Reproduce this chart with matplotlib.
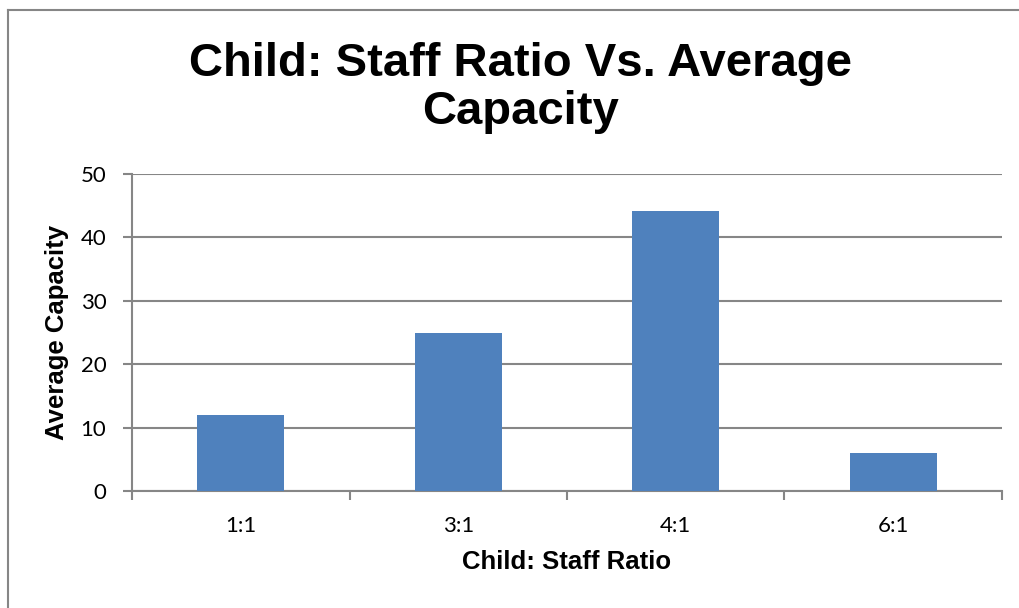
import matplotlib.pyplot as plt
from matplotlib.lines import Line2D
import numpy as np

ratios = ["1:1", "3:1", "4:1", "6:1"]
avg_capacity = [12, 25, 44.2, 6]
y_ticks = [0, 10, 20, 30, 40, 50]

bar_color = "#4F81BD"
gris = "#868686"

fig = plt.figure(figsize=(10.2, 6.08), dpi=100)
ax = fig.add_axes([132 / 1020, 1 - 491 / 608, 870 / 1020, 317 / 608])

x = np.arange(len(ratios))
ax.bar(x, avg_capacity, width=0.4, color=bar_color, zorder=3)

ax.set_xlim(-0.5, len(ratios) - 0.5)
ax.set_ylim(0, 50)
ax.set_yticks(y_ticks)
ax.set_yticklabels([str(v) for v in y_ticks], fontsize=16, family="Lato")

# x ticks on the category boundaries, labels in the middle
ax.set_xticks(np.arange(-0.5, len(ratios), 1.0))
ax.set_xticklabels([])
ax.set_xticks(x, minor=True)
ax.set_xticklabels(ratios, minor=True, fontsize=16, family="Lato")
ax.tick_params(axis="x", which="minor", length=0, pad=18)
ax.tick_params(axis="x", which="major", length=6.5, width=1.5, color=gris, direction="out")
ax.tick_params(axis="y", length=6.5, width=1.5, color=gris, direction="out", pad=12)

ax.grid(axis="y", color=gris, linewidth=1.5, zorder=0)
for s in ["top", "right"]:
    ax.spines[s].set_visible(False)
for s in ["left", "bottom"]:
    ax.spines[s].set_color(gris)
    ax.spines[s].set_linewidth(1.5)

ax.set_ylabel("Average Capacity", fontsize=18.5, fontweight="bold",
              family="Liberation Sans", labelpad=8)
ax.set_xlabel("Child: Staff Ratio", fontsize=18.5, fontweight="bold",
              family="Liberation Sans", labelpad=10)

fig.text(521 / 1020, 1 - 88 / 608, "Child: Staff Ratio Vs. Average\nCapacity",
         ha="center", va="center", fontsize=34, fontweight="bold",
         family="Liberation Sans", linespacing=1.12)

# bordure du graphique (gauche + haut)
fig.add_artist(Line2D([8 / 1020, 8 / 1020], [0, 1 - 10 / 608], color=gris, linewidth=1.5,
                      transform=fig.transFigure))
fig.add_artist(Line2D([8 / 1020, 1], [1 - 10 / 608, 1 - 10 / 608], color=gris, linewidth=1.5,
                      transform=fig.transFigure))

plt.savefig("out.png", dpi=100)
